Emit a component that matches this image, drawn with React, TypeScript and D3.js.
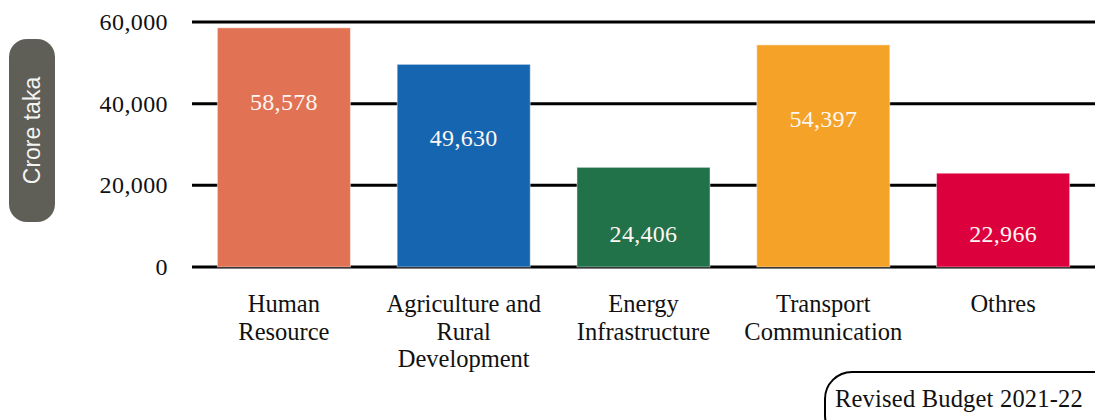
import React from "react";
import * as d3 from "d3";

// Revised Budget 2021-22: allocation by sector (crore taka)
const categories: string[][] = [
  ["Human", "Resource"],
  ["Agriculture and", "Rural", "Development"],
  ["Energy", "Infrastructure"],
  ["Transport", "Communication"],
  ["Othres"],
];
const values: number[] = [58578, 49630, 24406, 54397, 22966];
const colors: string[] = ["#E27254", "#1565B0", "#217149", "#F5A228", "#DC003D"];
const yTicks: number[] = [0, 20000, 40000, 60000];

const W = 1095;
const H = 420;
const serif = "'Liberation Serif', 'Times New Roman', serif";
const sans = "'Liberation Sans', Arial, sans-serif";

export default function App() {
  const keys = categories.map((c) => c.join(" "));
  const x = d3
    .scaleBand<string>()
    .domain(keys)
    .range([194, 1093])
    .paddingInner(0.26)
    .paddingOuter(0.13);
  const y = d3.scaleLinear().domain([0, 60000]).range([267, 22]);
  const fmt = d3.format(",");
  const y0 = y(0);

  return (
    <svg
      width={W}
      height={H}
      viewBox={`0 0 ${W} ${H}`}
      style={{ position: "absolute", left: 0, top: 0, background: "#fff" }}
    >
      {/* gridlines */}
      {yTicks.map((t) => (
        <line key={"g" + t} x1={192} x2={W} y1={y(t)} y2={y(t)} stroke="#000" strokeWidth={3} />
      ))}
      {/* tick labels */}
      {yTicks.map((t) => (
        <text
          key={"t" + t}
          x={168}
          y={y(t) + 8}
          textAnchor="end"
          fontFamily={serif}
          fontSize={24}
          letterSpacing={0.4}
          fill="#111"
        >
          {fmt(t)}
        </text>
      ))}

      {/* bars */}
      {values.map((v, i) => {
        const k = keys[i];
        const top = y(v);
        return (
          <g key={"b" + k}>
            <rect
              x={x(k)}
              y={top}
              width={x.bandwidth()}
              height={y0 - top}
              fill={colors[i]}
              stroke="rgba(255,255,255,0.45)"
              strokeWidth={1}
            />
            <text
              x={(x(k) as number) + x.bandwidth() / 2}
              y={Math.min(top + 82, y0 - 25)}
              textAnchor="middle"
              fontFamily={serif}
              fontSize={24}
              letterSpacing={0.3}
              fill="#fdf6f2"
            >
              {fmt(v)}
            </text>
          </g>
        );
      })}

      {/* category labels */}
      {categories.map((lines, i) => {
        const cx = (x(keys[i]) as number) + x.bandwidth() / 2;
        return (
          <text key={"c" + i} textAnchor="middle" fontFamily={serif} fontSize={24.5} fill="#111">
            {lines.map((l, j) => (
              <tspan key={j} x={cx} y={312 + j * 27.5}>
                {l}
              </tspan>
            ))}
          </text>
        );
      })}

      {/* y-axis title badge */}
      <rect x={9} y={39} width={46} height={183} rx={18} ry={18} fill="#5F5E57" />
      <text
        transform="translate(40,130.5) rotate(-90)"
        textAnchor="middle"
        fontFamily={sans}
        fontSize={23}
        fill="#f4f4f2"
      >
        Crore taka
      </text>

      {/* budget badge */}
      <rect x={825} y={372} width={300} height={70} rx={27} ry={27} fill="#fff" stroke="#000" strokeWidth={2} />
      <text x={835} y={407} fontFamily={serif} fontSize={24.5} letterSpacing={0.2} fill="#111">
        Revised Budget 2021-22
      </text>
    </svg>
  );
}
